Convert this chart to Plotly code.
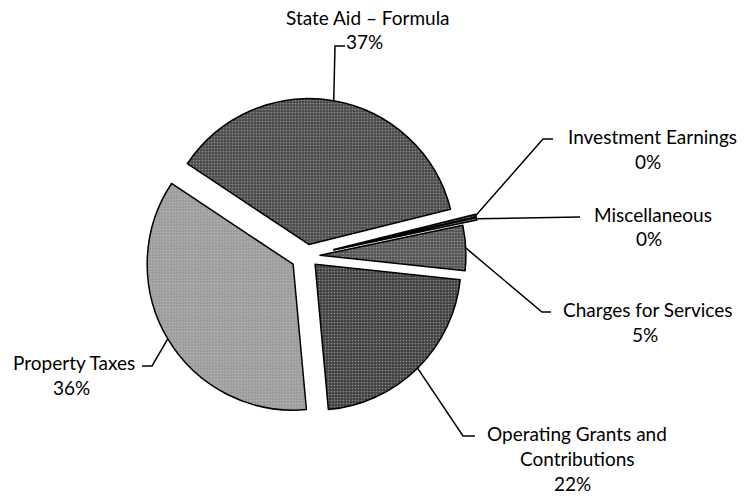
import math
import plotly.graph_objects as go

# ---- data ----
categories = ["Investment Earnings", "Miscellaneous", "Charges for Services",
              "Operating Grants and Contributions", "Property Taxes", "State Aid – Formula"]
label_lines = [["Investment Earnings"], ["Miscellaneous"], ["Charges for Services"],
               ["Operating Grants and", "Contributions"], ["Property Taxes"], ["State Aid – Formula"]]
values = [0.3, 0.3, 5.0, 22.0, 36.0, 37.0]

# ---- style ----
W, H = 744, 499
colors = ["#383838", "#606060", "#565656", "#424242", "#9c9c9c", "#4c4c4c"]
pulls = [0.19, 0.19, 0.09, 0.08, 0.11, 0.08]
rotation = 76
dom_x = [0.179, 0.646]
dom_y = [0.139, 0.835]
FONT = "Lato, 'Open Sans', sans-serif"
FS = 19

fig = go.Figure(go.Pie(
    labels=categories, values=values, sort=False, direction="clockwise",
    rotation=rotation, pull=pulls, textinfo="none", hoverinfo="label+percent",
    marker=dict(colors=colors, line=dict(color="#000000", width=1.5),
                pattern=dict(shape=".", size=3, solidity=0.25, fgcolor="#d0d0d0",
                             fillmode="overlay")),
    domain=dict(x=dom_x, y=dom_y), showlegend=False,
))

# geometry (pixel space) derived from the pie's own layout rules
D = min((dom_x[1] - dom_x[0]) * W, (dom_y[1] - dom_y[0]) * H)
r = D / (2 + 2 * max(pulls))
cx = W * (dom_x[0] + dom_x[1]) / 2
cy = H * (1 - (dom_y[0] + dom_y[1]) / 2)
total = sum(values)
start = 90 - rotation
mids = []
for v in values:
    span = v / total * 360
    mids.append(start - span / 2)
    start -= span

def px(x, y):
    return x / W, 1 - y / H

# label layout: (name centre x, first line y, pct centre x, pct y, leader waypoints)
label_pos = [
    (652, 137, 648, 161, [(543, 139), (553, 139)]),
    (653, 214, 649, 239, [(580, 217)]),
    (648, 309, 645, 334, [(542, 312), (551, 312)]),
    (577, 433, 572, 483, [(463, 436), (475, 436)]),
    (74, 362, 71, 387, [(152, 366), (142, 366)]),
    (368, 17, 364, 42, [(335, 46), (345, 46)]),
]

for i, v in enumerate(values):
    a = math.radians(mids[i])
    rr = r * (1 + pulls[i])
    sx, sy = cx + rr * math.cos(a), cy - rr * math.sin(a)
    nx, ny, ppx, ppy, way = label_pos[i]
    pts = [(sx, sy)] + way
    path = "M " + " L ".join(f"{px(x, y)[0]:.5f},{px(x, y)[1]:.5f}" for x, y in pts)
    fig.add_shape(type="path", path=path, xref="paper", yref="paper",
                  line=dict(color="#000000", width=1.5))
    lines = label_lines[i]
    for j, t in enumerate(lines):
        yy = ny + j * 25
        fig.add_annotation(x=px(nx, yy)[0], y=px(nx, yy)[1], xref="paper", yref="paper",
                           text=t, showarrow=False, xanchor="center", yanchor="middle",
                           font=dict(family=FONT, size=FS, color="#000000"))
    pct = round(v / total * 100)
    fig.add_annotation(x=px(ppx, ppy)[0], y=px(ppx, ppy)[1], xref="paper", yref="paper",
                       text=f"{pct}%", showarrow=False, xanchor="center", yanchor="middle",
                       font=dict(family=FONT, size=FS, color="#000000"))

fig.update_layout(width=W, height=H, margin=dict(l=0, r=0, t=0, b=0),
                  paper_bgcolor="#ffffff", plot_bgcolor="#ffffff")
fig.write_html("out.html", config={"displayModeBar": False},
               post_script="document.body.style.margin='0';document.body.style.padding='0';")
